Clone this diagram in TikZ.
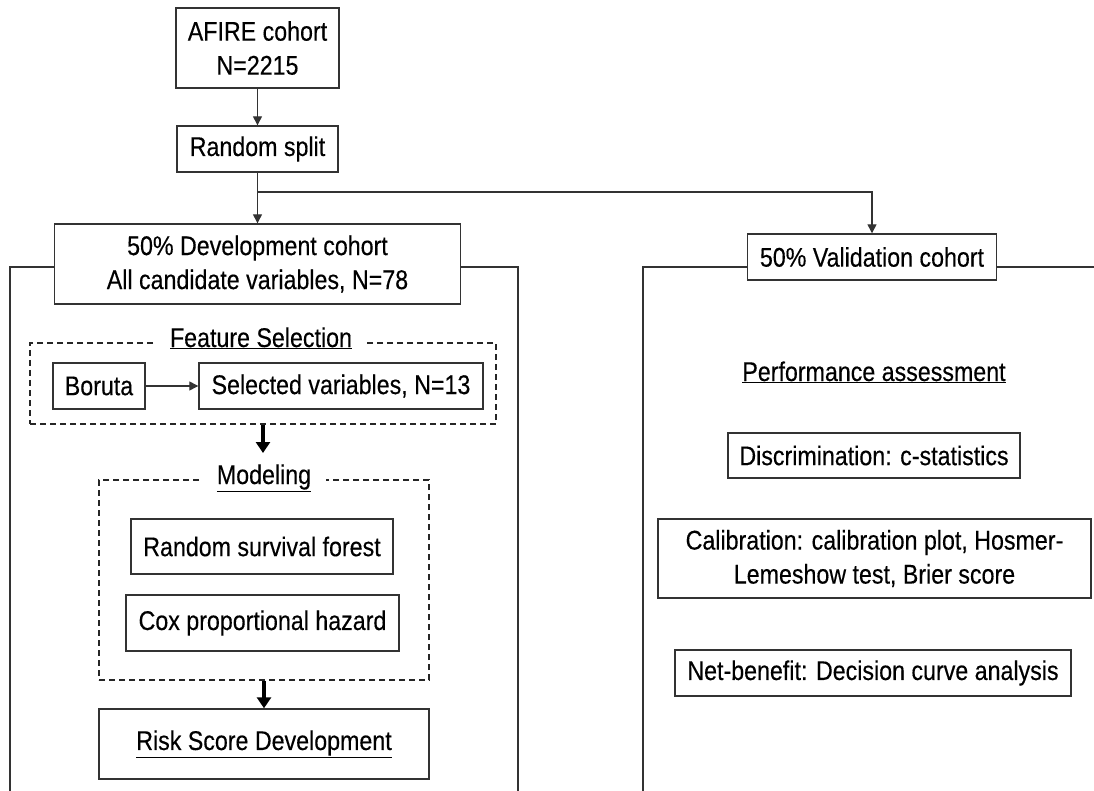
\documentclass[tikz,border=0pt]{standalone}
\usepackage{fontspec}
\setmainfont{Liberation Sans}[FakeStretch=0.86,FakeBold=0.3]
\usetikzlibrary{arrows.meta}
\begin{document}
\begin{tikzpicture}[x=1pt,y=-1pt,
  font=\fontsize{27}{34}\selectfont,
  box/.style={draw=black!80, line width=1.4pt, inner sep=0pt, align=center},
  dbox/.style={draw=black!85, line width=1.4pt, dash pattern=on 6pt off 4pt, inner sep=0pt},
  frameline/.style={draw=black!80, line width=2pt},
  arr/.style={draw=black!80, line width=1.3pt, -{Triangle[length=9pt,width=9pt]}},
  bigarr/.style={draw=black, line width=3.5pt, -{Triangle[length=11pt,width=14pt]}},
  lab/.style={fill=white, inner xsep=15pt, inner ysep=2pt, anchor=base}]
\useasboundingbox (0,0) rectangle (1094,791);
\fill[white] (0,0) rectangle (1094,791);

% top
\node[box, minimum width=163pt, minimum height=80pt] (afire) at (257.5,48) {AFIRE cohort\\N=2215};
\node[box, minimum width=161pt, minimum height=46pt] (split) at (257.5,149) {Random split};
\node[box, minimum width=406pt, minimum height=80pt] (dev) at (257.5,264) {50\% Development cohort\\All candidate variables, N=78};
\node[box, minimum width=249pt, minimum height=46pt] (valid) at (872,257) {50\% Validation cohort};
\coordinate (br) at (257.5,192);

\draw[arr] (afire.south) -- (split.north);
\draw[arr] (split.south) -- (dev.north);
\draw[arr] (br) -| (valid.north);

% frames
\coordinate (fl1) at (10,267);
\coordinate (fl2) at (10,791);
\coordinate (fr1) at (518,267);
\coordinate (fr2) at (518,791);
\draw[frameline] (dev.west |- fl1) -- (fl1) -- (fl2);
\draw[frameline] (dev.east |- fr1) -- (fr1) -- (fr2);
\coordinate (gl1) at (643,267);
\coordinate (gl2) at (643,791);
\coordinate (gr1) at (1094,267);
\draw[frameline] (valid.west |- gl1) -- (gl1) -- (gl2);
\draw[frameline] (valid.east |- gr1) -- (gr1);

% feature selection
\node[dbox, minimum width=466pt, minimum height=81pt] (fsbox) at (263,383.5) {};
\node[lab] (fslab) at (261,347) {\underline{Feature Selection}};
\node[box, minimum width=92pt, minimum height=46pt] (boruta) at (99,386) {Boruta};
\node[box, minimum width=284pt, minimum height=46pt] (selected) at (341,386) {Selected variables, N=13};
\draw[arr] (boruta.east) -- (selected.west);

% modeling
\node[dbox, minimum width=330pt, minimum height=200pt] (modbox) at (264,580) {};
\node[lab] (modlab) at (264,484) {\underline{Modeling}};
\node[box, minimum width=262pt, minimum height=55pt] (rsf) at (262,546.5) {Random survival forest};
\node[box, minimum width=273pt, minimum height=56pt] (cox) at (262.5,623) {Cox proportional hazard};
\coordinate (fsarr) at (263,453);
\draw[bigarr] (fsbox.south) -- (fsarr);

\node[box, minimum width=330pt, minimum height=70pt] (risk) at (264,744) {\underline{Risk Score Development}};
\draw[bigarr] (modbox.south) -- (risk.north);

% validation side
\node[anchor=base, inner sep=0pt] (perf) at (874,381) {\underline{Performance assessment}};
\node[box, minimum width=292pt, minimum height=45pt] (disc) at (874,455.5) {Discrimination: c-statistics};
\node[box, minimum width=433pt, minimum height=79pt] (calib) at (874.5,558.5) {Calibration: calibration plot, Hosmer-\\Lemeshow test, Brier score};
\node[box, minimum width=396pt, minimum height=46pt] (net) at (873,673) {Net-benefit: Decision curve analysis};
\end{tikzpicture}
\end{document}
